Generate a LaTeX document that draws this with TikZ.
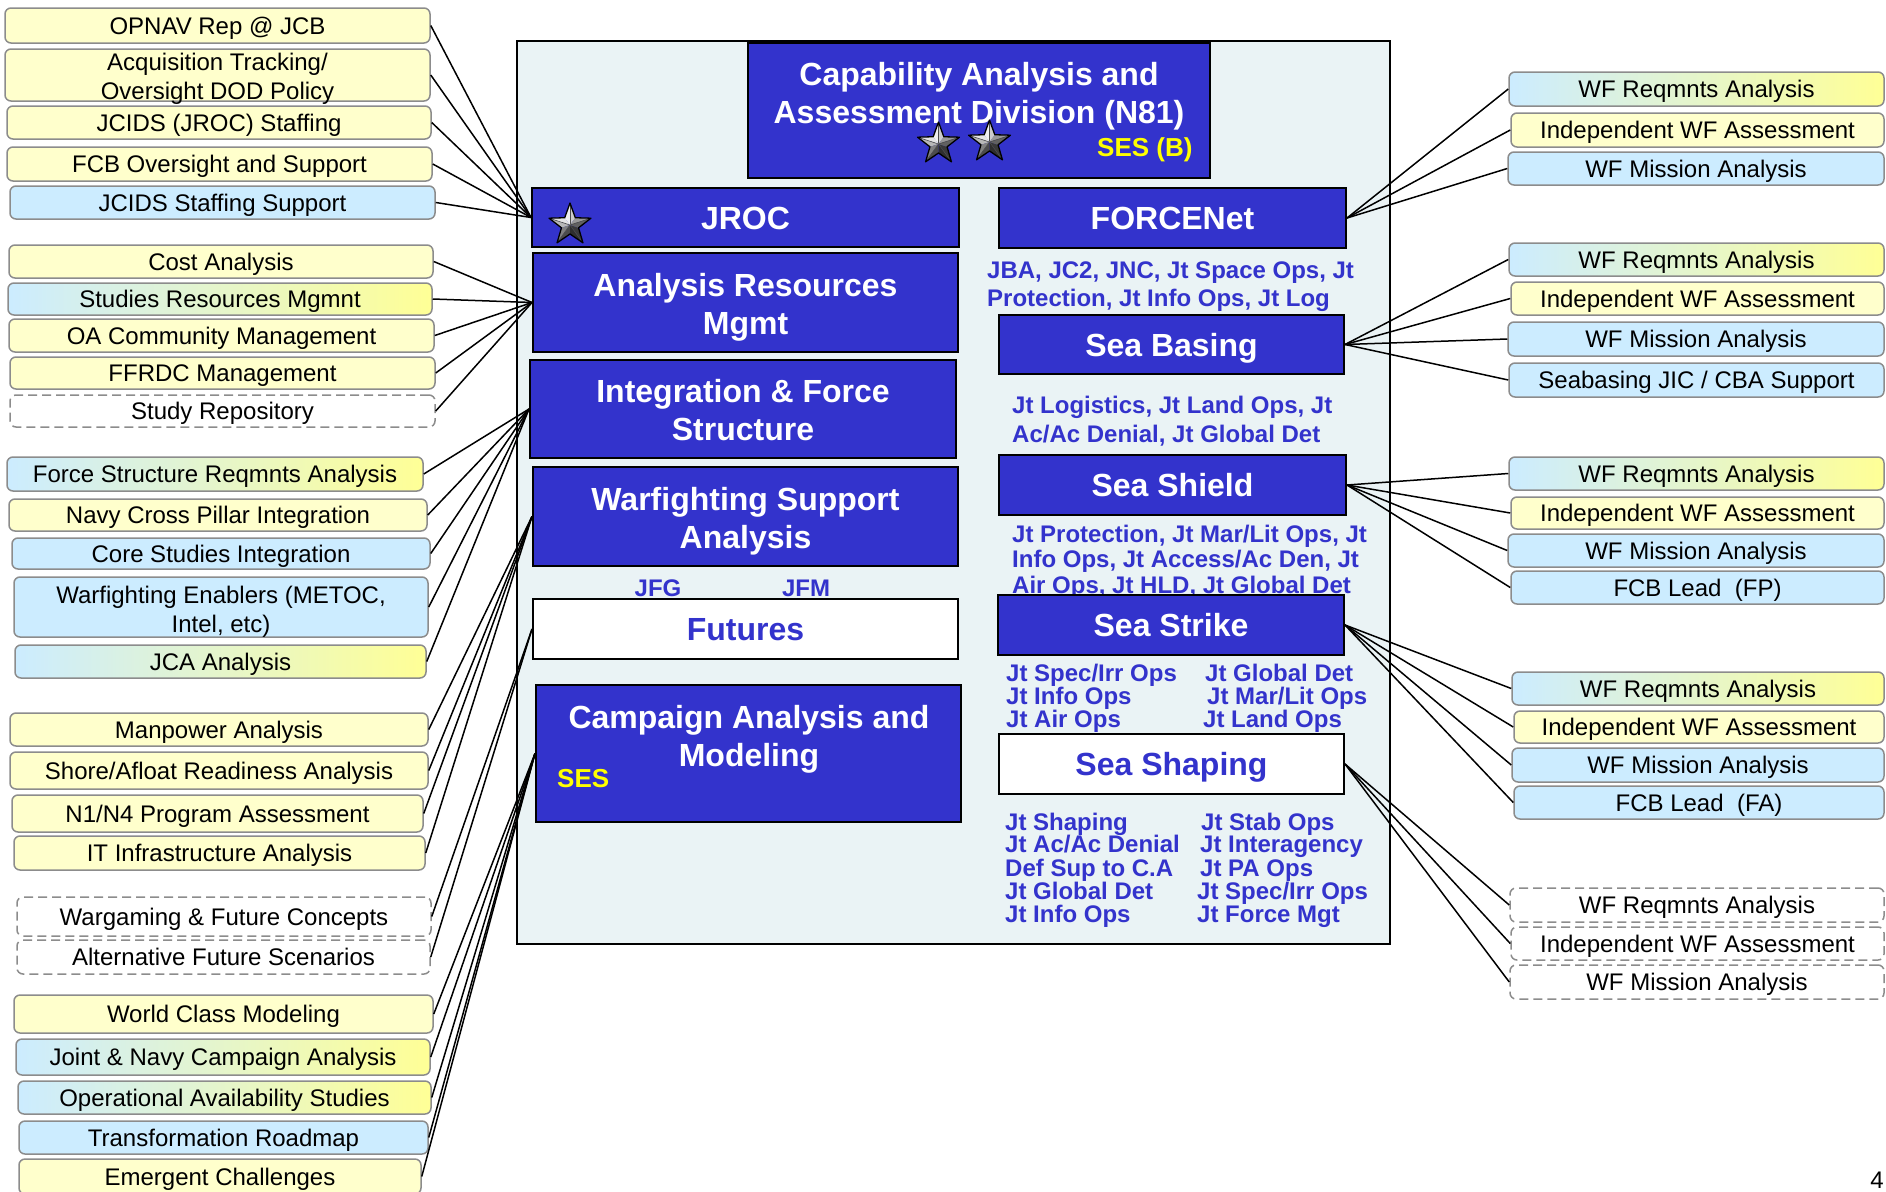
\documentclass[tikz,border=0pt]{standalone}
\usepackage{fontspec}
\setmainfont{Liberation Sans}
\definecolor{nblue}{RGB}{51,51,204}
\definecolor{lblue}{RGB}{204,236,255}
\definecolor{lyel}{RGB}{255,255,204}
\definecolor{gyel}{RGB}{255,255,150}
\definecolor{bgray}{RGB}{140,140,140}
\definecolor{framefill}{RGB}{234,243,245}
\definecolor{sesyel}{RGB}{255,255,0}
\newcommand\myfs[2]{\fontsize{#1}{#2}\selectfont}
\newcommand\mybox[7]{\node[#1, minimum width={#5-#3}, minimum height={#6-#4}] (#2) at ({(#3+#5)/2},{(#4+#6)/2}) {#7};}
\tikzset{
  lbase/.style={draw=bgray, line width=1.5pt, rounded corners=6pt, inner sep=0pt, font=\myfs{24}{29}, align=center},
  one/.style={text height=17.5pt, text depth=0pt},
  yel/.style={lbase, fill=lyel},
  blu/.style={lbase, fill=lblue},
  grad/.style={lbase, left color=lblue, right color=gyel},
  dsh/.style={lbase, fill=white, dash pattern=on 9pt off 5pt},
  ltxt/.style={font=\myfs{24}{29}, align=center, inner sep=0pt},
  mbox/.style={draw=black, line width=2pt, fill=nblue, inner sep=0pt},
  wbox/.style={draw=black, line width=2pt, fill=white, inner sep=0pt},
  btxt/.style={text=white, font=\bfseries\myfs{32}{38}, align=center, inner sep=0pt},
  one32/.style={text height=23pt, text depth=0pt},
  captxt/.style={text=nblue, font=\bfseries\myfs{24}{24}, inner sep=0pt, anchor=base west},
  sestxt/.style={text=sesyel, font=\bfseries\myfs{26}{26}, inner sep=0pt, anchor=base west},
  conn/.style={draw=black, line width=1.5pt},
  star3d/.pic={
    \foreach \k/\ca/\cb in {0/94/80, 1/72/90, 2/30/50, 3/22/18, 4/60/38} {
      \fill[white!\ca!black] (0,0) -- ({90+72*\k}:22pt) -- ({126+72*\k}:9pt) -- cycle;
      \fill[white!\cb!black] (0,0) -- ({90+72*\k}:22pt) -- ({54+72*\k}:9pt) -- cycle;
      \draw[black!70, line width=0.6pt] (0,0) -- ({90+72*\k}:22pt);
    }
    \draw[black, line width=1.3pt, line join=round] (90:22pt) -- (126:9pt) -- (162:22pt) -- (198:9pt) -- (234:22pt) -- (270:9pt) -- (306:22pt) -- (342:9pt) -- (18:22pt) -- (54:9pt) -- cycle;
  }
}
\begin{document}
\begin{tikzpicture}[x=1pt,y=-1pt]
\useasboundingbox (0,0) rectangle (1886,1191);
% main frame
\mybox{draw=black, line width=2pt, fill=framefill, inner sep=0pt}{frame}{517}{41}{1390}{944}{}
% captions (drawn before boxes)
\node[captxt] (c1a) at (987,278.6) {JBA, JC2, JNC, Jt Space Ops, Jt};
\node[captxt] (c1b) at (987,306.6) {Protection, Jt Info Ops, Jt Log};
\node[captxt] (c2a) at (1012,413.6) {Jt Logistics, Jt Land Ops, Jt};
\node[captxt] (c2b) at (1012,442.6) {Ac/Ac Denial, Jt Global Det};
\node[captxt] (c3a) at (1012,542.6) {Jt Protection, Jt Mar/Lit Ops, Jt};
\node[captxt] (c3b) at (1012,567.6) {Info Ops, Jt Access/Ac Den, Jt};
\node[captxt] (c3c) at (1012,593.6) {Air Ops, Jt HLD, Jt Global Det};
\node[captxt] (c4a) at (1006,681.6) {Jt Spec/Irr Ops};
\node[captxt] (c4b) at (1006,704.6) {Jt Info Ops};
\node[captxt] (c4c) at (1006,727.6) {Jt Air Ops};
\node[captxt] (c4d) at (1205,681.6) {Jt Global Det};
\node[captxt] (c4e) at (1207,704.6) {Jt Mar/Lit Ops};
\node[captxt] (c4f) at (1203,727.6) {Jt Land Ops};
\node[captxt] (c5a) at (1005,830.6) {Jt Shaping};
\node[captxt] (c5b) at (1005,852.6) {Jt Ac/Ac Denial};
\node[captxt] (c5c) at (1005,876.6) {Def Sup to C.A};
\node[captxt] (c5d) at (1005,899.6) {Jt Global Det};
\node[captxt] (c5e) at (1005,922.6) {Jt Info Ops};
\node[captxt] (c5f) at (1201,830.6) {Jt Stab Ops};
\node[captxt] (c5g) at (1200,852.6) {Jt Interagency};
\node[captxt] (c5h) at (1200,876.6) {Jt PA Ops};
\node[captxt] (c5i) at (1197,899.6) {Jt Spec/Irr Ops};
\node[captxt] (c5j) at (1197,922.6) {Jt Force Mgt};
\node[captxt, anchor=base] (jfg) at (658,596.6) {JFG};
\node[captxt, anchor=base] (jfm) at (806,596.6) {JFM};
% main boxes
\mybox{mbox}{n81}{748}{43}{1210}{178}{}
\mybox{mbox,btxt,one32}{jroc}{532}{188}{959}{247}{JROC}
\mybox{mbox}{arm}{533}{253}{958}{352}{}
\mybox{mbox}{ifs}{530}{360}{956}{458}{}
\mybox{mbox}{wsa}{533}{467}{958}{566}{}
\mybox{wbox,btxt,one32,text=nblue}{fut}{533}{599}{958}{659}{Futures}
\mybox{mbox}{cam}{536}{685}{961}{822}{}
\mybox{mbox,btxt,one32}{fnet}{999}{188}{1346}{248}{FORCENet}
\mybox{mbox,btxt,one32}{sbas}{999}{315}{1344}{374}{Sea Basing}
\mybox{mbox,btxt,one32}{sshd}{999}{455}{1346}{515}{Sea Shield}
\mybox{mbox,btxt,one32}{sstk}{998}{595}{1344}{655}{Sea Strike}
\mybox{wbox,btxt,one32,text=nblue}{sshp}{999}{734}{1344}{794}{Sea Shaping}
% multi-line texts in main boxes
\node[btxt] (n81t) at (979,96) {Capability Analysis and\\Assessment Division (N81)};
\node[btxt] (armt) at (745.5,307) {Analysis Resources\\Mgmt};
\node[btxt] (ifst) at (743,410) {Integration \& Force\\Structure};
\node[btxt] (wsat) at (745.5,521.5) {Warfighting Support\\Analysis};
\node[btxt] (camt) at (749,739) {Campaign Analysis and\\Modeling};
\node[sestxt] (ses1) at (1097,156.3) {SES (B)};
\node[sestxt] (ses2) at (557,787.3) {SES};
% stars
\pic at (938.5,144) {star3d};
\pic at (989.5,142) {star3d};
\pic at (570,225) {star3d};
% left boxes
\mybox{yel,one}{l1}{5}{8}{430}{43}{OPNAV Rep @ JCB}
\mybox{yel}{l2}{5}{49}{430}{101}{}
\node[ltxt] (l2t) at (217.5,79) {Acquisition Tracking/\\Oversight DOD Policy};
\mybox{yel,one}{l3}{7}{106}{431}{139}{JCIDS (JROC) Staffing}
\mybox{yel,one}{l4}{7}{147}{432}{181}{FCB Oversight and Support}
\mybox{blu,one}{l5}{10}{186}{435}{219}{JCIDS Staffing Support}
\mybox{yel,one}{l6}{9}{245}{433}{278}{Cost Analysis}
\mybox{grad,one}{l7}{8}{283}{432}{315}{Studies Resources Mgmnt}
\mybox{yel,one}{l8}{9}{319}{434}{352}{OA Community Management}
\mybox{yel,one}{l9}{10}{357}{435}{389}{FFRDC Management}
\mybox{dsh,one}{l10}{10}{395}{435}{427}{Study Repository}
\mybox{grad,one}{l11}{7}{457}{423}{491}{Force Structure Reqmnts Analysis}
\mybox{yel,one}{l12}{9}{499}{427}{531}{Navy Cross Pillar Integration}
\mybox{blu,one}{l13}{12}{538}{430}{569}{Core Studies Integration}
\mybox{blu}{l14}{14}{577}{428}{637}{}
\node[ltxt] (l14t) at (221,612) {Warfighting Enablers (METOC,\\Intel, etc)};
\mybox{grad,one}{l15}{15}{645}{426}{678}{JCA Analysis}
\mybox{yel,one}{l16}{10}{713}{428}{746}{Manpower Analysis}
\mybox{yel,one}{l17}{10}{752}{428}{789}{Shore/Afloat Readiness Analysis}
\mybox{yel,one}{l18}{12}{795}{423}{832}{N1/N4 Program Assessment}
\mybox{yel,one}{l19}{14}{836}{425}{870}{IT Infrastructure Analysis}
\mybox{dsh,one}{l20}{17}{897}{431}{936}{Wargaming \& Future Concepts}
\mybox{dsh,one}{l21}{17}{940}{430}{974}{Alternative Future Scenarios}
\mybox{yel,one}{l22}{14}{995}{433}{1033}{World Class Modeling}
\mybox{grad,one}{l23}{16}{1039}{430}{1075}{Joint \& Navy Campaign Analysis}
\mybox{grad,one}{l24}{18}{1081}{431}{1114}{Operational Availability Studies}
\mybox{blu,one}{l25}{19}{1121}{428}{1154}{Transformation Roadmap}
\mybox{yel,one}{l26}{19}{1159}{421}{1194}{Emergent Challenges}
% right boxes
\mybox{grad,one}{r1a}{1509}{72}{1884}{106}{WF Reqmnts Analysis}
\mybox{yel,one}{r1b}{1511}{113}{1884}{147}{Independent WF Assessment}
\mybox{blu,one}{r1c}{1508}{152}{1884}{185}{WF Mission Analysis}
\mybox{grad,one}{r2a}{1509}{243}{1884}{276}{WF Reqmnts Analysis}
\mybox{yel,one}{r2b}{1511}{282}{1884}{315}{Independent WF Assessment}
\mybox{blu,one}{r2c}{1508}{322}{1884}{356}{WF Mission Analysis}
\mybox{blu,one}{r2d}{1509}{363}{1884}{397}{Seabasing JIC / CBA Support}
\mybox{grad,one}{r3a}{1509}{457}{1884}{490}{WF Reqmnts Analysis}
\mybox{yel,one}{r3b}{1511}{497}{1884}{529}{Independent WF Assessment}
\mybox{blu,one}{r3c}{1508}{534}{1884}{567}{WF Mission Analysis}
\mybox{blu,one}{r3d}{1511}{571}{1884}{604}{FCB Lead\ \ (FP)}
\mybox{grad,one}{r4a}{1512}{672}{1884}{705}{WF Reqmnts Analysis}
\mybox{yel,one}{r4b}{1514}{711}{1884}{743}{Independent WF Assessment}
\mybox{blu,one}{r4c}{1512}{748}{1884}{782}{WF Mission Analysis}
\mybox{blu,one}{r4d}{1514}{786}{1884}{819}{FCB Lead\ \ (FA)}
\mybox{dsh,one}{r5a}{1510}{888}{1884}{922}{WF Reqmnts Analysis}
\mybox{dsh,one}{r5b}{1511}{927}{1884}{960}{Independent WF Assessment}
\mybox{dsh,one}{r5c}{1510}{965}{1884}{999}{WF Mission Analysis}
% connectors left
\foreach \s in {l1,l2,l3,l4,l5} \draw[conn] (\s.east) -- (jroc.west);
\foreach \s in {l6,l7,l8,l9,l10} \draw[conn] (\s.east) -- (arm.west);
\foreach \s in {l11,l12,l13,l14,l15} \draw[conn] (\s.east) -- (ifs.west);
\foreach \s in {l16,l17,l18,l19} \draw[conn] (\s.east) -- (wsa.west);
\foreach \s in {l20,l21} \draw[conn] (\s.east) -- (fut.west);
\foreach \s in {l22,l23,l24,l25,l26} \draw[conn] (\s.east) -- (cam.west);
% connectors right
\foreach \t in {r1a,r1b,r1c} \draw[conn] (fnet.east) -- (\t.west);
\foreach \t in {r2a,r2b,r2c,r2d} \draw[conn] (sbas.east) -- (\t.west);
\foreach \t in {r3a,r3b,r3c,r3d} \draw[conn] (sshd.east) -- (\t.west);
\foreach \t in {r4a,r4b,r4c,r4d} \draw[conn] (sstk.east) -- (\t.west);
\foreach \t in {r5a,r5b,r5c} \draw[conn] (sshp.east) -- (\t.west);
% page number
\node[font=\myfs{24}{24}, inner sep=0pt, anchor=base east] (pnum) at (1884,1188) {4};
\end{tikzpicture}
\end{document}
